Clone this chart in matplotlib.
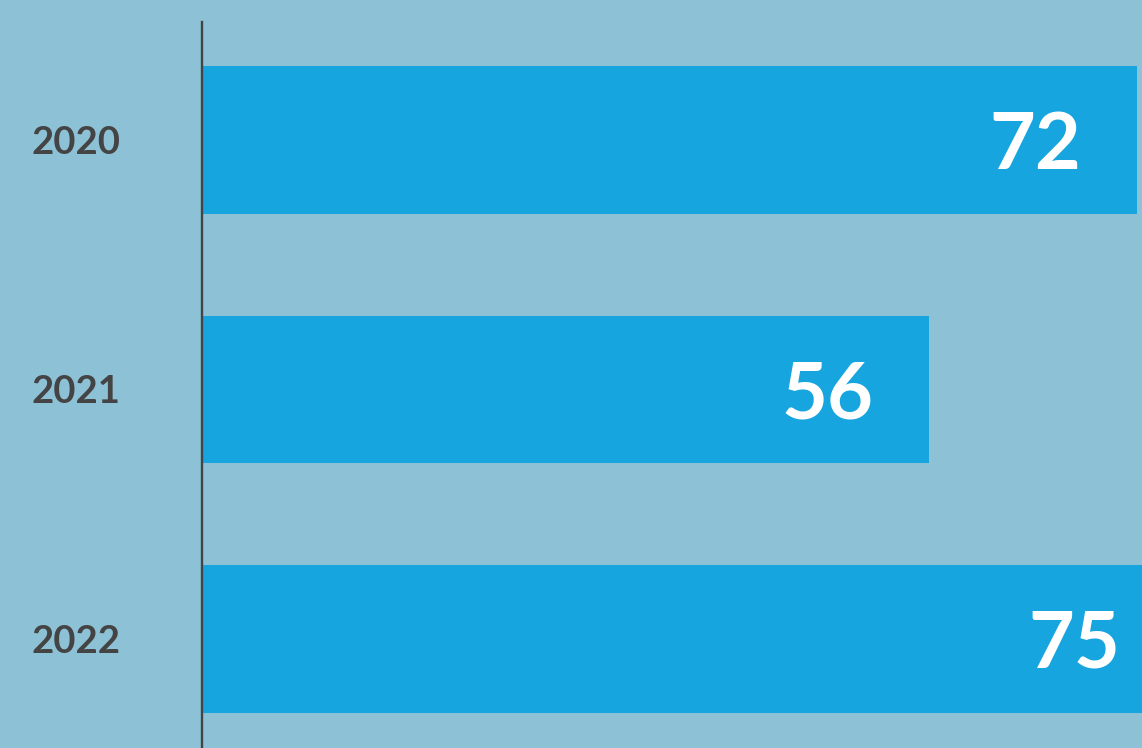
import numpy as np
import matplotlib
matplotlib.use("Agg")
import matplotlib.pyplot as plt

years = ["2020", "2021", "2022"]
values = [72, 56, 75]

bg = "#8dc1d6"
bar_color = "#17a5df"
dark = "#444444"

plt.rcParams["font.family"] = ["Lato", "DejaVu Sans"]

fig = plt.figure(figsize=(11.42, 7.48), dpi=100, facecolor=bg)
ax = fig.add_axes([202 / 1142, 0, 1 - 202 / 1142, 726 / 748])
ax.set_facecolor(bg)

pos = np.arange(len(years))
bars = ax.barh(pos, values, height=0.593, color=bar_color, zorder=2)

ax.set_xlim(0, 72.4)
ax.set_ylim(2.437, -0.473)

# value labels sit inside the bar, right aligned
for b, v in zip(bars, values):
    ax.annotate(str(v), xy=(b.get_width(), b.get_y() + b.get_height() / 2),
                xytext=(-56, -7), textcoords="offset pixels",
                ha="right", va="center", color="white",
                fontsize=57, fontweight="bold", zorder=3,
                annotation_clip=False)

ax.set_yticks(pos)
ax.set_yticklabels(years, fontsize=27.5, fontweight="bold", color=dark)
ax.tick_params(axis="y", length=0, pad=59)
ax.set_xticks([])

for s in ["top", "right", "bottom"]:
    ax.spines[s].set_visible(False)
ax.spines["left"].set_color(dark)
ax.spines["left"].set_linewidth(1.7)
ax.spines["left"].set_zorder(4)

fig.savefig("out.png", dpi=100, facecolor=bg)
